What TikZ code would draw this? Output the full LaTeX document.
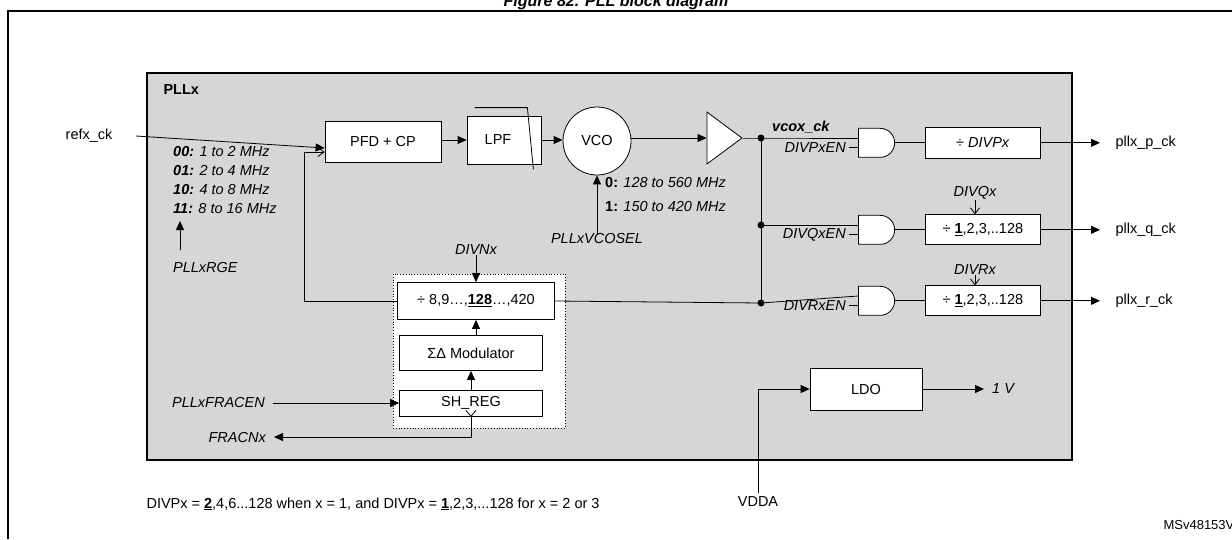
\documentclass[tikz,border=0pt]{standalone}
\usepackage{fontspec}
\setmainfont{Liberation Sans}
\usetikzlibrary{arrows.meta,shapes.gates.logic.US,shapes.geometric}
\begin{document}
\begin{tikzpicture}[x=1pt,y=-1pt,
  every node/.style={font=\fontsize{14.5}{17}\selectfont},
  blk/.style={draw,thick,fill=white,minimum height=#1,inner sep=0pt},
  blk/.default=31,
  arr/.style={-{Triangle[length=9,width=8]},thick},
  ln/.style={thick},
  lab/.style={font=\fontsize{14.5}{17}\selectfont\itshape,inner sep=0pt},
  gate/.style={and gate US,draw,thick,fill=white,minimum width=35,minimum height=29,inner sep=0pt,logic gate inputs=nn}]
\useasboundingbox (0,0) rectangle (1232,539);
\fill[white] (0,0) rectangle (1232,539);
\begin{scope}
\clip (0,0) rectangle (1232,539);
\node[font=\fontsize{16}{19}\selectfont\bfseries\itshape] (title) at (616,2) {Figure 82. PLL block diagram};
\draw[line width=1.5] (8,539) -- (8,11) -- (1240,11);
\node[font=\fontsize{13}{16}\selectfont,anchor=west] (ms) at (1160,525) {MSv48153V2};
\end{scope}
% PLLx box
\draw[line width=2,fill=black!16] (147,73) rectangle (1072,460);
\node[font=\fontsize{14.5}{17}\selectfont\bfseries,anchor=west] (pllx) at (160,90) {PLLx};
% blocks
\node[blk=41,minimum width=116] (pfd) at (383,142) {PFD + CP};
\node[blk=48,minimum width=74] (lpf) at (504,140) {\hspace*{-12pt}LPF};
\draw[thick] ([xshift=8,yshift=8]lpf.north west) -- ([xshift=-14,yshift=8]lpf.north east) -- ([xshift=-8,yshift=-5]lpf.south east);
\node[circle,draw,thick,fill=white,minimum size=68,inner sep=0pt] (vco) at (597,141) {VCO};
\node[isosceles triangle,draw,thick,fill=white,minimum width=52,minimum height=35,isosceles triangle stretches,inner sep=0pt] (buf) at (720,138) {};
% input
\node[anchor=east] (refx) at (116,136) {refx\_ck};
\coordinate (rin) at ([yshift=-6]pfd.west);
\draw[arr] ([xshift=20]refx.east) -- (rin);
\draw[arr] (pfd.east|-140,140) -- (lpf.west|-140,140);
\draw[arr] (lpf.east|-140,140) -- (vco.west|-140,140);
\draw[arr] (vco.east|-138,138) -- (buf.west|-138,138);
% range text
\node[lab,anchor=west] (r0) at (173,152) {\bfseries 00: \mdseries 1 to 2 MHz};
\node[lab,anchor=west] (r1) at (173,171) {\bfseries 01: \mdseries 2 to 4 MHz};
\node[lab,anchor=west] (r2) at (173,190) {\bfseries 10: \mdseries 4 to 8 MHz};
\node[lab,anchor=west] (r3) at (173,209) {\bfseries 11: \mdseries 8 to 16 MHz};
\node[lab,anchor=west] (rge) at (173,268) {PLLxRGE};
\draw[arr] (180,250) -- (180,221);
% VCO range
\node[lab,anchor=west] (v0) at (605,183) {\bfseries\upshape 0: \mdseries\itshape 128 to 560 MHz};
\node[lab,anchor=west] (v1) at (605,207) {\bfseries\upshape 1: \mdseries\itshape 150 to 420 MHz};
\node[lab] (vsel) at (597,239) {PLLxVCOSEL};
\draw[arr] (vsel.north) -- (vco.south);
% fractional block
\draw[dotted,thick,fill=white] (393,274) rectangle (565,428);
\node[blk=37,minimum width=157] (divn) at (476,301) {÷ 8,9…,\underline{\textbf{128}}…,420};
\node[blk=35,minimum width=143] (sd) at (471,353) {ΣΔ Modulator};
\node[blk=26,minimum width=143] (sh) at (471,403) {SH\_REG};
\draw[arr] (sh.north) -- (sd.south);
\draw[arr] (sd.north-|divn.south) -- (divn.south);
\node[lab] (divnx) at (476,250) {DIVNx};
\draw[arr] (divnx.south) -- (divn.north);
\node[lab,anchor=east] (fen) at (265,403) {PLLxFRACEN};
\draw[arr] ([xshift=8]fen.east) -- (sh.west);
\node[lab,anchor=east] (frac) at (266,437) {FRACNx};
\draw[arr] (sh.south) |- ([xshift=8]frac.east);
\draw[thick] ([xshift=-5,yshift=6]sh.south) -- (sh.south) -- ([xshift=5,yshift=6]sh.south);
% feedback
\coordinate (fb) at (304,152);
\draw[ln,-{Straight Barb[length=6,width=9]}] (divn.west) -| (fb) -- (pfd.west|-fb);
% distribution
\coordinate (n1) at (761,138);
\coordinate (n2) at (761,225);
\coordinate (n3) at (761,303);
\node[gate,anchor=input 1] (gp) at (858,138) {};
\node[gate,anchor=input 1] (gq) at (858,225) {};
\node[gate,anchor=input 1] (gr) at (858,296) {};
\draw[ln] (buf.east) -- (n1) -- (gp.input 1);
\draw[ln] (n1) -- (n3);
\draw[ln] (n2) -- (gq.input 1);
\draw[ln] (divn.east) -- (n3) -- (gr.input 1);
\foreach \n in {n1,n2,n3} \fill (\n) circle (3.5);
\node[font=\fontsize{14.5}{17}\selectfont\bfseries\itshape,anchor=south west,inner sep=1pt] (vcox) at (771,134) {vcox\_ck};
\node[lab,anchor=east] (pen) at (846,0 |- gp.input 2) {DIVPxEN};
\node[lab,anchor=east] (qen) at (846,0 |- gq.input 2) {DIVQxEN};
\node[lab,anchor=east] (ren) at (846,0 |- gr.input 2) {DIVRxEN};
\draw[ln] ([xshift=3]pen.east) -- (gp.input 2);
\draw[ln] ([xshift=3]qen.east) -- (gq.input 2);
\draw[ln] ([xshift=3]ren.east) -- (gr.input 2);
\node[blk=31,minimum width=115,anchor=west] (dp) at (925,0 |- gp.output) {÷ \textit{DIVPx}};
\node[blk=30,minimum width=115,anchor=west] (dq) at (925,0 |- gq.output) {÷ \underline{\textbf{1}},2,3,..128};
\node[blk=30,minimum width=115,anchor=west] (dr) at (925,0 |- gr.output) {÷ \underline{\textbf{1}},2,3,..128};
\draw[ln] (gp.output) -- (dp.west);
\draw[ln] (gq.output) -- (dq.west);
\draw[ln] (gr.output) -- (dr.west);
\node[lab] (divq) at (975,193) {DIVQx};
\node[lab] (divr) at (975,270) {DIVRx};
\draw[ln,-{Straight Barb[length=6,width=9]}] (divq.south) -- (dq.north-|divq);
\draw[ln,-{Straight Barb[length=6,width=9]}] (divr.south) -- (dr.north-|divr);
\node[anchor=west] (op) at (1112,0 |- gp.output) {pllx\_p\_ck};
\node[anchor=west] (oq) at (1112,0 |- gq.output) {pllx\_q\_ck};
\node[anchor=west] (orr) at (1112,0 |- gr.output) {pllx\_r\_ck};
\draw[arr] (dp.east) -- ([xshift=-12]op.west);
\draw[arr] (dq.east) -- ([xshift=-12]oq.west);
\draw[arr] (dr.east) -- ([xshift=-12]orr.west);
% LDO
\node[blk=42,minimum width=112] (ldo) at (866,389) {LDO};
\node (vdda) at (758,502) {VDDA};
\draw[arr] (vdda.north) |- (ldo.west);
\node[lab,anchor=west] (v1v) at (992,389) {1 V};
\draw[arr] (ldo.east) -- ([xshift=-8]v1v.west);
% footnote
\node[anchor=west] (foot) at (143,504) {DIVPx = \underline{\textbf{2}},4,6...128 when x = 1, and DIVPx = \underline{\textbf{1}},2,3,...128 for x = 2 or 3};
\end{tikzpicture}
\end{document}
